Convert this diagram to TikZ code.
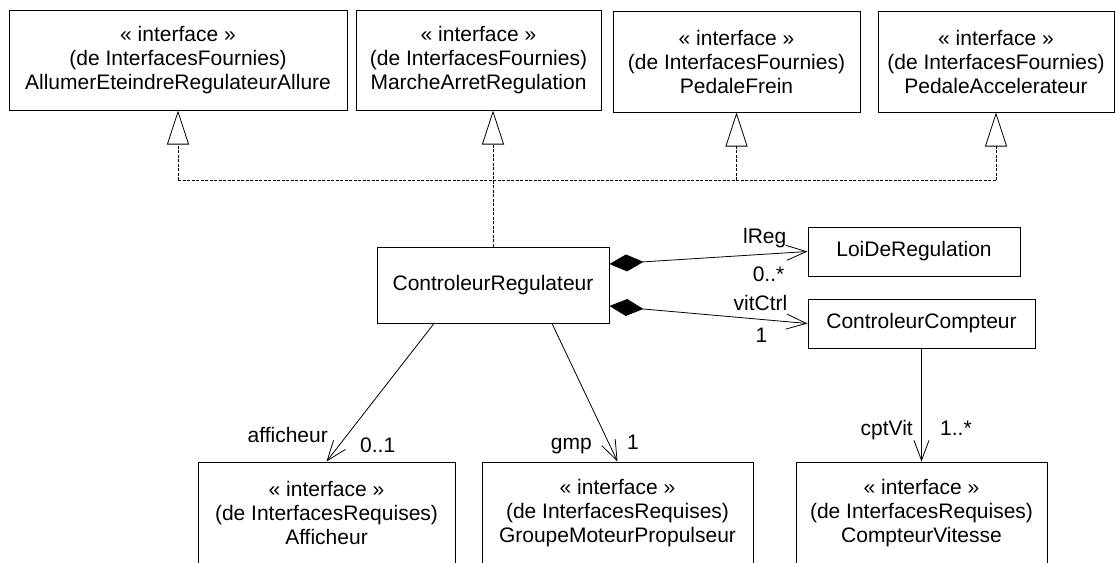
\documentclass[tikz,border=0pt]{standalone}
\usepackage{fontspec}
\setmainfont{Liberation Sans}
\usetikzlibrary{arrows.meta}

\newcommand{\fourni}[1]{« interface »\\(de InterfacesFournies)\\#1}
\newcommand{\requis}[1]{« interface »\\(de InterfacesRequises)\\#1}

\begin{document}
\begin{tikzpicture}[x=1pt, y=-1pt,
  classe/.style={draw, line width=1pt, inner sep=0pt, align=center,
    font=\fontsize{21}{24}\selectfont},
  role/.style={inner sep=0pt, font=\fontsize{21}{24}\selectfont},
  realise/.style={line width=0.8pt, dash pattern=on 3pt off 1.5pt,
    -{Triangle[open, length=34pt, width=22pt]}},
  assoc/.style={line width=0.8pt, -{Straight Barb[length=20pt, width=15pt]}},
  compo/.style={line width=0.8pt,
    {Diamond[length=34pt, width=17pt]}-{Straight Barb[length=20pt, width=15pt]}}]
\useasboundingbox (0,0) rectangle (1115,562);

% Provided interfaces (top row)
\node[classe, minimum width=338pt, minimum height=100pt] (aera) at (178,60)   {\fourni{AllumerEteindreRegulateurAllure}};
\node[classe, minimum width=245pt, minimum height=100pt] (mar)  at (478.5,60) {\fourni{MarcheArretRegulation}};
\node[classe, minimum width=247pt, minimum height=101pt] (pf)   at (736.5,61.5) {\fourni{PedaleFrein}};
\node[classe, minimum width=236pt, minimum height=101pt] (pa)   at (996,61.5) {\fourni{PedaleAccelerateur}};

% The controller and its parts
\node[classe, minimum width=232pt, minimum height=76pt] (cr)  at (493,285)   {ControleurRegulateur};
\node[classe, minimum width=212pt, minimum height=49pt] (ldr) at (914,251.5) {LoiDeRegulation};
\node[classe, minimum width=227pt, minimum height=49pt] (cc)  at (921.5,323.5) {ControleurCompteur};

% Required interfaces (bottom row, cut by the page)
\node[classe, minimum width=257pt, minimum height=102pt] (aff) at (326.5,513) {\requis{Afficheur}};
\node[classe, minimum width=271pt, minimum height=102pt] (gmp) at (617.5,513) {\requis{GroupeMoteurPropulseur}};
\node[classe, minimum width=251pt, minimum height=102pt] (cv)  at (921.5,513) {\requis{CompteurVitesse}};

% Realisation of the provided interfaces
\coordinate (bus) at (493,180);
\draw[line width=0.8pt, dash pattern=on 3pt off 1.5pt] (aera.south |- bus) -- (pa.south |- bus);
\draw[realise] (cr.north) -- (cr.north |- mar.south);
\draw[realise] (aera.south |- bus) -- (aera.south);
\draw[realise] (pf.south |- bus) -- (pf.south);
\draw[realise] (pa.south |- bus) -- (pa.south);

% Compositions
\draw[compo] ([yshift=21pt]cr.east) -- (ldr.west);
\draw[compo] ([yshift=-21pt]cr.east) -- (cc.west);
\node[role, anchor=base east] (lreg)  at ([xshift=-21pt, yshift=8.5pt]ldr.west) {lReg};
\node[role, anchor=base east] (mreg)  at ([xshift=-23pt, yshift=-29.5pt]ldr.west) {0..*};
\node[role, anchor=base east] (vctrl) at ([xshift=-20pt, yshift=13.5pt]cc.west) {vitCtrl};
\node[role, anchor=base east] (mctrl) at ([xshift=-40pt, yshift=-18.5pt]cc.west) {1};

% Associations towards the required interfaces
\draw[assoc] ([xshift=-59pt]cr.south) -- (aff.north);
\draw[assoc] ([xshift=59pt]cr.south) -- (gmp.north);
\draw[assoc] (cc.south) -- (cv.north);
\node[role, anchor=base east] (raff) at ([xshift=1.5pt, yshift=19pt]aff.north) {afficheur};
\node[role, anchor=base west] (maff) at ([xshift=33.5pt, yshift=9pt]aff.north) {0..1};
\node[role, anchor=base east] (rgmp) at ([xshift=-25.5pt, yshift=12pt]gmp.north) {gmp};
\node[role, anchor=base west] (mgmp) at ([xshift=9.5pt, yshift=12pt]gmp.north) {1};
\node[role, anchor=base east] (rcv)  at ([xshift=-8.5pt, yshift=26pt]cv.north) {cptVit};
\node[role, anchor=base west] (mcv)  at ([xshift=18.5pt, yshift=26pt]cv.north) {1..*};
\end{tikzpicture}
\end{document}
